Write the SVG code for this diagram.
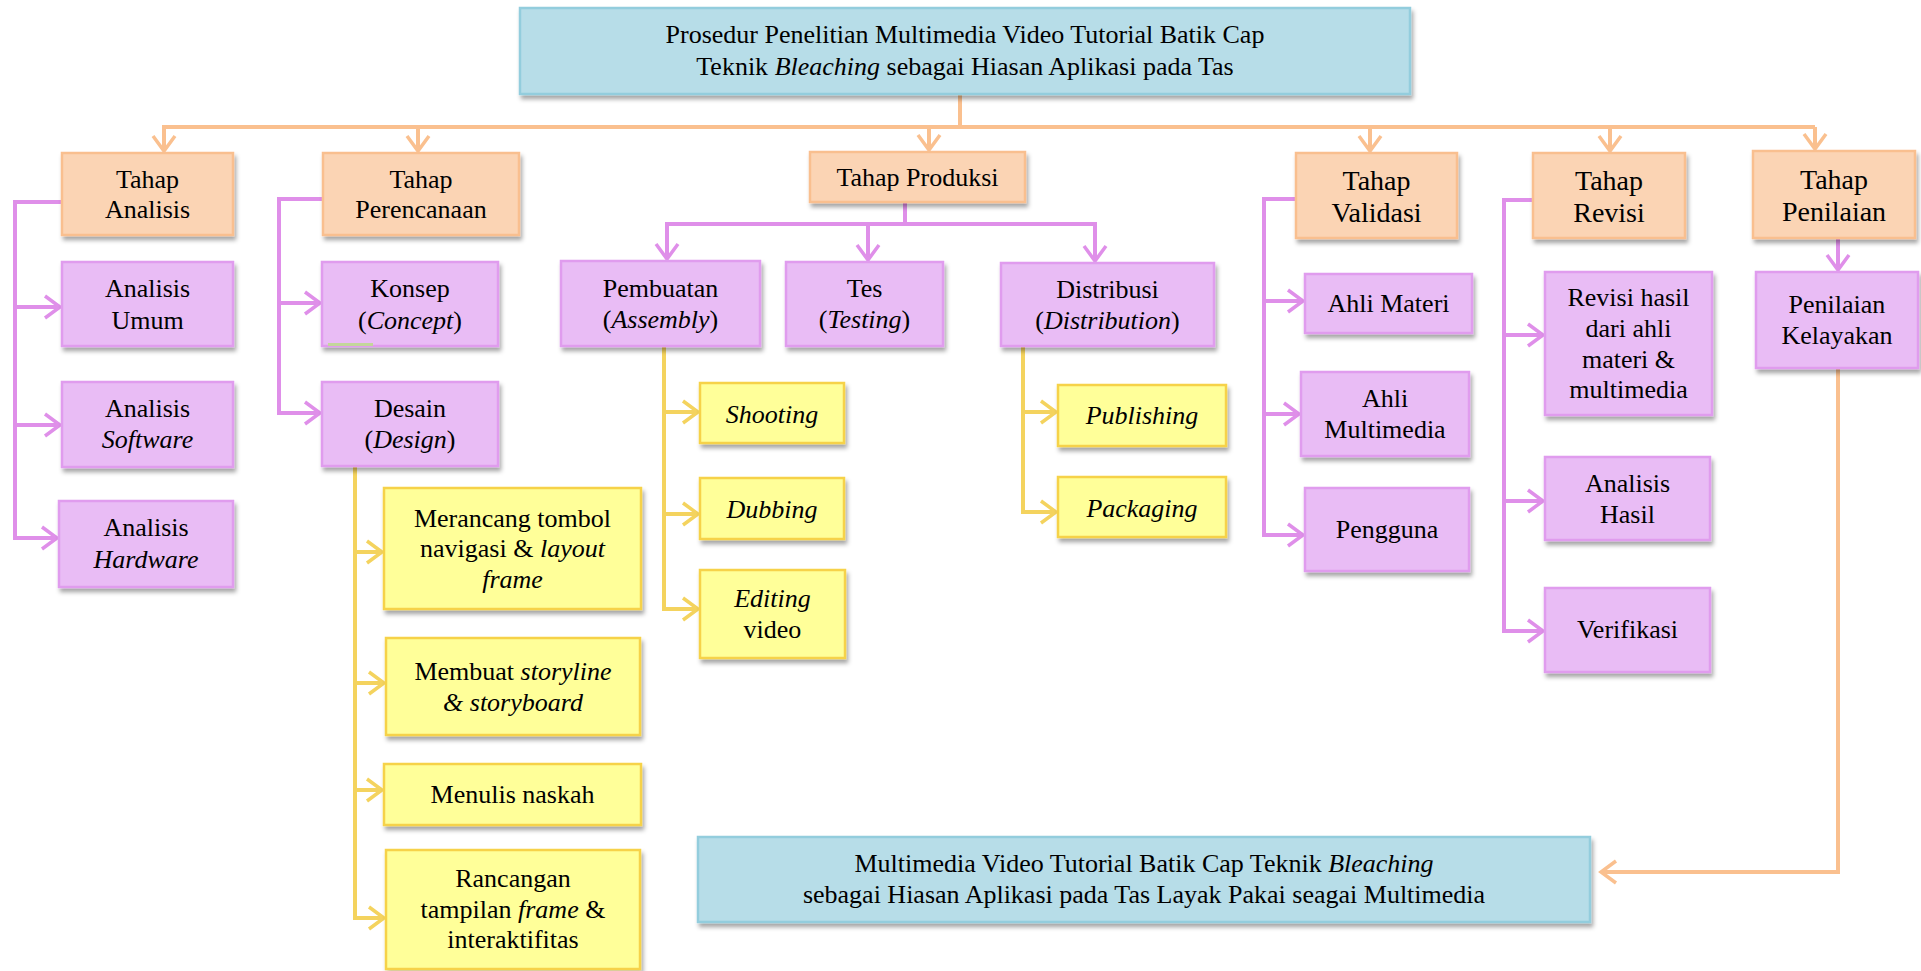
<svg xmlns="http://www.w3.org/2000/svg" width="1921" height="971" viewBox="0 0 1921 971">
<style>
.bl{fill:#b7dde8;stroke:#93cddd;stroke-width:2.5}
.or{fill:#fbd4b4;stroke:#f9bf8f;stroke-width:2.5}
.pu{fill:#e9bcf5;stroke:#e09cee;stroke-width:2.5}
.ye{fill:#ffff99;stroke:#f6d24a;stroke-width:2.5}
.box{filter:url(#sh)}
text{font-family:"Liberation Serif","Times New Roman",serif;font-size:26px;text-anchor:middle;fill:#000}
.big{font-size:28px}
.co{fill:none;stroke:#fac08f;stroke-width:4}
.cp{fill:none;stroke:#df8fe9;stroke-width:4}
.cy{fill:none;stroke:#f4d35e;stroke-width:4}
</style>
<defs>
<filter id="sh" x="-10%" y="-10%" width="125%" height="135%">
<feDropShadow dx="2" dy="4" stdDeviation="2" flood-color="#000" flood-opacity="0.35"/>
</filter>
<marker id="mo" markerUnits="userSpaceOnUse" markerWidth="24" markerHeight="26" refX="18" refY="13" orient="auto" overflow="visible"><path d="M3,2 L18,13 L3,24" fill="none" stroke="#fac08f" stroke-width="3.5"/></marker>
<marker id="mp" markerUnits="userSpaceOnUse" markerWidth="24" markerHeight="26" refX="18" refY="13" orient="auto" overflow="visible"><path d="M3,2 L18,13 L3,24" fill="none" stroke="#df8fe9" stroke-width="3.5"/></marker>
<marker id="my" markerUnits="userSpaceOnUse" markerWidth="24" markerHeight="26" refX="18" refY="13" orient="auto" overflow="visible"><path d="M3,2 L18,13 L3,24" fill="none" stroke="#f4d35e" stroke-width="3.5"/></marker>
</defs>

<g id="connectors">
<path class="co" d="M960,94 V127"/>
<path class="co" d="M162,127 H1815"/>
<path class="co" d="M164,127 V151" marker-end="url(#mo)"/>
<path class="co" d="M418,127 V151" marker-end="url(#mo)"/>
<path class="co" d="M929,127 V150" marker-end="url(#mo)"/>
<path class="co" d="M1370,127 V151" marker-end="url(#mo)"/>
<path class="co" d="M1610,127 V151" marker-end="url(#mo)"/>
<path class="co" d="M1815,127 V149" marker-end="url(#mo)"/>
<path class="co" d="M1838,369 V872 H1601" marker-end="url(#mo)"/>

<path class="cp" d="M61,202 H15 V538 H57" marker-end="url(#mp)"/>
<path class="cp" d="M15,307 H60" marker-end="url(#mp)"/>
<path class="cp" d="M15,425 H60" marker-end="url(#mp)"/>
<path class="cp" d="M323,199 H279 V413 H320" marker-end="url(#mp)"/>
<path class="cp" d="M279,303 H320" marker-end="url(#mp)"/>
<path class="cp" d="M905,202 V224"/>
<path class="cp" d="M665,224 H1097"/>
<path class="cp" d="M667,224 V259" marker-end="url(#mp)"/>
<path class="cp" d="M868,224 V260" marker-end="url(#mp)"/>
<path class="cp" d="M1095,224 V261" marker-end="url(#mp)"/>
<path class="cp" d="M1296,199 H1264 V535 H1303" marker-end="url(#mp)"/>
<path class="cp" d="M1264,301 H1303" marker-end="url(#mp)"/>
<path class="cp" d="M1264,414 H1299" marker-end="url(#mp)"/>
<path class="cp" d="M1533,200 H1504 V631 H1543" marker-end="url(#mp)"/>
<path class="cp" d="M1504,335 H1543" marker-end="url(#mp)"/>
<path class="cp" d="M1504,501 H1543" marker-end="url(#mp)"/>
<path class="cp" d="M1838,238 V270" marker-end="url(#mp)"/>

<path class="cy" d="M355,466 V918 H384" marker-end="url(#my)"/>
<path class="cy" d="M355,552 H382" marker-end="url(#my)"/>
<path class="cy" d="M355,683 H384" marker-end="url(#my)"/>
<path class="cy" d="M355,790 H382" marker-end="url(#my)"/>
<path class="cy" d="M664,346 V609 H698" marker-end="url(#my)"/>
<path class="cy" d="M664,412 H698" marker-end="url(#my)"/>
<path class="cy" d="M664,514 H698" marker-end="url(#my)"/>
<path class="cy" d="M1023,346 V512 H1056" marker-end="url(#my)"/>
<path class="cy" d="M1023,412 H1056" marker-end="url(#my)"/>
</g>

<g id="n-top"><rect class="bl box" x="520" y="8" width="890" height="86"/>
<text x="965" y="43">Prosedur Penelitian Multimedia Video Tutorial Batik Cap</text>
<text x="965" y="75">Teknik <tspan font-style="italic">Bleaching</tspan> sebagai Hiasan Aplikasi pada Tas</text></g>

<g id="n-bottom"><rect class="bl box" x="698" y="837" width="892" height="85"/>
<text x="1144" y="872">Multimedia Video Tutorial Batik Cap Teknik <tspan font-style="italic">Bleaching</tspan></text>
<text x="1144" y="903">sebagai Hiasan Aplikasi pada Tas Layak Pakai seagai Multimedia</text></g>

<g id="n-tahap-analisis"><rect class="or box" x="62" y="153" width="171" height="82"/>
<text x="147.5" y="188">Tahap</text><text x="147.5" y="218">Analisis</text></g>
<g id="n-tahap-perencanaan"><rect class="or box" x="323" y="153" width="196" height="82"/>
<text x="421" y="188">Tahap</text><text x="421" y="218">Perencanaan</text></g>
<g id="n-tahap-produksi"><rect class="or box" x="810" y="152" width="215" height="50"/>
<text x="917.5" y="186">Tahap Produksi</text></g>
<g id="n-tahap-validasi"><rect class="or box" x="1296" y="153" width="161" height="85"/>
<text class="big" x="1376.5" y="190">Tahap</text><text class="big" x="1376.5" y="222">Validasi</text></g>
<g id="n-tahap-revisi"><rect class="or box" x="1533" y="153" width="152" height="85"/>
<text class="big" x="1609" y="190">Tahap</text><text class="big" x="1609" y="222">Revisi</text></g>
<g id="n-tahap-penilaian"><rect class="or box" x="1753" y="151" width="162" height="87"/>
<text class="big" x="1834" y="189">Tahap</text><text class="big" x="1834" y="221">Penilaian</text></g>

<g id="n-analisis-umum"><rect class="pu box" x="62" y="262" width="171" height="84"/>
<text x="147.5" y="297">Analisis</text><text x="147.5" y="329">Umum</text></g>
<g id="n-analisis-software"><rect class="pu box" x="62" y="382" width="171" height="85"/>
<text x="147.5" y="417">Analisis</text><text x="147.5" y="448" font-style="italic">Software</text></g>
<g id="n-analisis-hardware"><rect class="pu box" x="59" y="501" width="174" height="86"/>
<text x="146" y="536">Analisis</text><text x="146" y="568" font-style="italic">Hardware</text></g>
<g id="n-konsep"><rect class="pu box" x="322" y="262" width="176" height="84"/>
<line x1="328" y1="344.5" x2="373" y2="344.5" stroke="#c3d69b" stroke-width="3"/>
<text x="410" y="297">Konsep</text><text x="410" y="329">(<tspan font-style="italic">Concept</tspan>)</text></g>
<g id="n-desain"><rect class="pu box" x="322" y="382" width="176" height="84"/>
<text x="410" y="417">Desain</text><text x="410" y="448">(<tspan font-style="italic">Design</tspan>)</text></g>
<g id="n-pembuatan"><rect class="pu box" x="561" y="261" width="199" height="85"/>
<text x="660.5" y="297">Pembuatan</text><text x="660.5" y="328">(<tspan font-style="italic">Assembly</tspan>)</text></g>
<g id="n-tes"><rect class="pu box" x="786" y="262" width="157" height="84"/>
<text x="864.5" y="297">Tes</text><text x="864.5" y="328">(<tspan font-style="italic">Testing</tspan>)</text></g>
<g id="n-distribusi"><rect class="pu box" x="1001" y="263" width="213" height="83"/>
<text x="1107.5" y="298">Distribusi</text><text x="1107.5" y="329">(<tspan font-style="italic">Distribution</tspan>)</text></g>
<g id="n-ahli-materi"><rect class="pu box" x="1305" y="274" width="167" height="59"/>
<text x="1388.5" y="312">Ahli Materi</text></g>
<g id="n-ahli-multimedia"><rect class="pu box" x="1301" y="372" width="168" height="84"/>
<text x="1385" y="407">Ahli</text><text x="1385" y="438">Multimedia</text></g>
<g id="n-pengguna"><rect class="pu box" x="1305" y="488" width="164" height="83"/>
<text x="1387" y="538">Pengguna</text></g>
<g id="n-revisi-hasil"><rect class="pu box" x="1545" y="272" width="167" height="143"/>
<text x="1628.5" y="306">Revisi hasil</text><text x="1628.5" y="337">dari ahli</text><text x="1628.5" y="368">materi &amp;</text><text x="1628.5" y="398">multimedia</text></g>
<g id="n-analisis-hasil"><rect class="pu box" x="1545" y="457" width="165" height="83"/>
<text x="1627.5" y="492">Analisis</text><text x="1627.5" y="523">Hasil</text></g>
<g id="n-verifikasi"><rect class="pu box" x="1545" y="588" width="165" height="84"/>
<text x="1627.5" y="638">Verifikasi</text></g>
<g id="n-penilaian-kelayakan"><rect class="pu box" x="1756" y="272" width="162" height="96"/>
<text x="1837" y="313">Penilaian</text><text x="1837" y="344">Kelayakan</text></g>

<g id="n-merancang"><rect class="ye box" x="384" y="488" width="257" height="121"/>
<text x="512.5" y="527">Merancang tombol</text><text x="512.5" y="557">navigasi &amp; <tspan font-style="italic">layout</tspan></text><text x="512.5" y="588" font-style="italic">frame</text></g>
<g id="n-membuat"><rect class="ye box" x="386" y="638" width="254" height="97"/>
<text x="513" y="680">Membuat <tspan font-style="italic">storyline</tspan></text><text x="513" y="711" font-style="italic">&amp; storyboard</text></g>
<g id="n-menulis"><rect class="ye box" x="384" y="764" width="257" height="61"/>
<text x="512.5" y="803">Menulis naskah</text></g>
<g id="n-rancangan"><rect class="ye box" x="386" y="850" width="254" height="119"/>
<text x="513" y="887">Rancangan</text><text x="513" y="918">tampilan <tspan font-style="italic">frame</tspan> &amp;</text><text x="513" y="948">interaktifitas</text></g>
<g id="n-shooting"><rect class="ye box" x="700" y="383" width="144" height="60"/>
<text x="772" y="423" font-style="italic">Shooting</text></g>
<g id="n-dubbing"><rect class="ye box" x="700" y="478" width="144" height="61"/>
<text x="772" y="518" font-style="italic">Dubbing</text></g>
<g id="n-editing"><rect class="ye box" x="700" y="570" width="145" height="88"/>
<text x="772.5" y="607" font-style="italic">Editing</text><text x="772.5" y="638">video</text></g>
<g id="n-publishing"><rect class="ye box" x="1058" y="385" width="168" height="61"/>
<text x="1142" y="424" font-style="italic">Publishing</text></g>
<g id="n-packaging"><rect class="ye box" x="1058" y="477" width="168" height="60"/>
<text x="1142" y="517" font-style="italic">Packaging</text></g>
</svg>
